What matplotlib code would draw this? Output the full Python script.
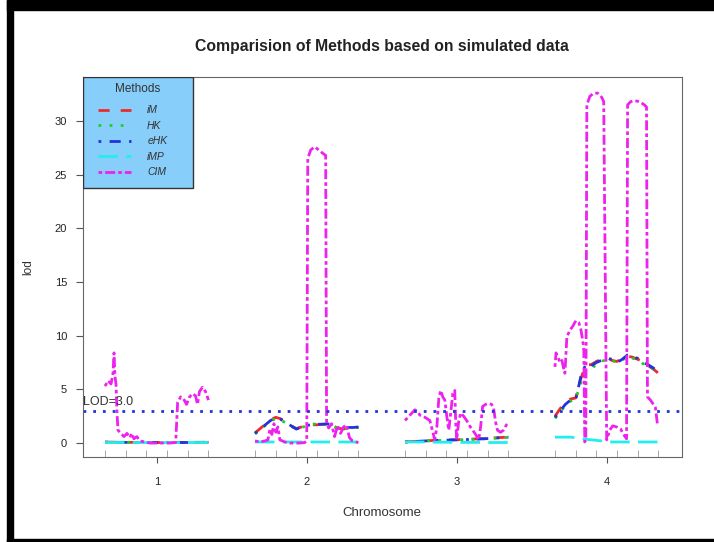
import numpy as np
import matplotlib.pyplot as plt
from matplotlib.patches import Rectangle
from matplotlib.lines import Line2D

plt.rcParams['font.family'] = ['Liberation Sans', 'DejaVu Sans']

# chromosome layout (cM)
chrom_names = ['1', '2', '3', '4']
chrom_len = 100
chrom_gap = 45
markers = [0, 20, 40, 60, 80, 100]

grid_coarse = [0, 10, 20, 30, 40, 50, 60, 70, 80, 90, 100]
grid_fine = [0, 5, 10, 15, 20, 25, 30, 35, 40, 45, 50, 55, 60, 65, 70, 75, 80, 85, 90, 95, 100]

# IM / HK / eHK / iMP, chr 1 and 3 on coarse grid, chr 2 and 4 on fine grid
im_1 = [0.09, 0.08, 0.07, 0.06, 0.05, 0.05, 0.05, 0.05, 0.06, 0.07, 0.08]
hk_1 = [0.07, 0.06, 0.05, 0.05, 0.04, 0.04, 0.04, 0.05, 0.05, 0.06, 0.06]
ehk_1 = [0.08, 0.07, 0.06, 0.05, 0.05, 0.04, 0.04, 0.05, 0.05, 0.06, 0.07]
imp_1 = [0.05, 0.05, 0.05, 0.05, 0.04, 0.04, 0.04, 0.04, 0.05, 0.05, 0.05]

im_2 = [0.95, 1.35, 1.75, 2.15, 2.4, 2.25, 1.95, 1.6, 1.35, 1.5, 1.6,
        1.7, 1.7, 1.75, 1.75, 1.6, 1.4, 1.3, 1.4, 1.45, 1.45]
hk_2 = [0.85, 1.25, 1.65, 2.0, 2.3, 2.15, 1.85, 1.55, 1.3, 1.45, 1.6,
        1.75, 1.8, 1.7, 1.75, 1.6, 1.35, 1.25, 1.4, 1.4, 1.45]
ehk_2 = [0.9, 1.3, 1.7, 2.1, 2.35, 2.2, 1.9, 1.6, 1.3, 1.5, 1.65,
         1.7, 1.75, 1.75, 1.8, 1.65, 1.35, 1.3, 1.45, 1.45, 1.5]
imp_2 = [0.1, 0.1, 0.1, 0.1, 0.1, 0.1, 0.1, 0.1, 0.1, 0.1, 0.1,
         0.1, 0.1, 0.1, 0.1, 0.1, 0.1, 0.1, 0.1, 0.1, 0.1]

im_3 = [0.12, 0.16, 0.21, 0.25, 0.28, 0.31, 0.35, 0.39, 0.44, 0.50, 0.56]
hk_3 = [0.09, 0.14, 0.19, 0.23, 0.26, 0.29, 0.32, 0.36, 0.41, 0.47, 0.53]
ehk_3 = [0.10, 0.15, 0.20, 0.24, 0.27, 0.30, 0.33, 0.37, 0.42, 0.48, 0.55]
imp_3 = [0.1, 0.1, 0.1, 0.08, 0.08, 0.06, 0.06, 0.06, 0.05, 0.05, 0.05]

im_4 = [2.5, 3.2, 3.8, 4.1, 4.2, 6.0, 7.3, 7.3, 7.6, 7.8, 8.0,
        7.7, 7.6, 7.9, 8.1, 8.0, 7.8, 7.6, 7.2, 6.9, 6.5]
hk_4 = [2.3, 2.9, 3.5, 3.9, 4.1, 5.6, 6.6, 6.8, 7.4, 7.6, 7.8,
        7.7, 7.5, 7.7, 8.1, 7.9, 7.8, 7.4, 7.2, 6.9, 6.5]
ehk_4 = [2.4, 3.0, 3.6, 4.0, 4.0, 6.2, 7.4, 7.2, 7.5, 7.7, 7.9,
         7.8, 7.5, 7.8, 8.2, 8.0, 7.9, 7.5, 7.3, 7.0, 6.6]
imp_4 = [0.55, 0.55, 0.55, 0.55, 0.5, 0.45, 0.35, 0.3, 0.25, 0.2, 0.15,
         0.1, 0.1, 0.1, 0.1, 0.1, 0.1, 0.1, 0.1, 0.1, 0.1]

# CIM, own positions per chromosome
cim_pos_1 = [0, 2.9, 5.8, 7.7, 8.7, 9.6, 10.6, 11.5, 12.5, 15.4, 18.3, 21.2, 24.0, 26.0, 27.9,
             30.8, 33.7, 38.5, 43.3, 52.9, 62.5, 68.3, 70.2, 73.1, 76.0, 78.8, 81.7, 84.6,
             87.5, 89.4, 91.3, 94.2, 97.1, 100]
cim_1 = [5.3, 5.8, 5.5, 6.5, 8.4, 6.2, 5.5, 3.0, 1.2, 0.9, 0.6, 0.9, 0.5, 0.9, 0.4,
         0.6, 0.2, 0.1, 0.0, 0.0, 0.0, 0.05, 3.8, 4.3, 4.1, 3.6, 4.3, 4.6,
         4.4, 3.6, 4.8, 5.2, 4.8, 4.0]
cim_pos_2 = [0, 4.8, 9.6, 12.5, 14.4, 16.3, 18.3, 20.2, 22.1, 24.0, 28.8, 33.7, 43.3, 48.1,
             50.0, 51.0, 53.8, 57.7, 61.5, 65.4, 68.3, 69.2, 71.2, 74.0, 76.9, 79.8, 82.7,
             85.6, 88.5, 91.3, 94.2, 97.1, 100]
cim_2 = [0.2, 0.1, 0.2, 0.3, 1.3, 0.8, 1.8, 1.0, 1.5, 0.3, 0.1, 0.0, 0.0, 0.05,
         0.2, 26.5, 27.3, 27.6, 27.3, 27.0, 26.8, 2.0, 1.4, 1.8, 0.6, 1.6, 0.9,
         1.5, 1.7, 0.5, 0.2, 0.1, 0.05]
cim_pos_3 = [0, 4.8, 9.6, 12.5, 14.4, 19.2, 24.0, 26.9, 28.8, 30.8, 32.7, 34.6, 36.5, 38.5,
             40.4, 42.3, 44.2, 46.2, 48.1, 49.0, 50.0, 51.9, 53.8, 56.7, 59.6, 62.5, 65.4,
             68.3, 71.2, 73.1, 75.0, 77.9, 80.8, 83.7, 85.6, 87.5, 89.4, 92.3, 95.2, 98.1, 100]
cim_3 = [2.1, 2.6, 3.1, 2.9, 2.6, 2.4, 2.1, 1.0, 0.3, 1.5, 4.2, 4.9, 4.3, 4.0,
         2.5, 1.2, 2.8, 4.6, 4.9, 2.0, 0.3, 2.0, 2.8, 2.5, 2.1, 1.6, 1.2,
         0.8, 0.3, 1.5, 3.4, 3.6, 3.7, 3.6, 3.3, 2.0, 1.2, 1.0, 1.2, 1.7, 1.9]
cim_pos_4 = [0, 1.0, 2.9, 4.8, 6.7, 8.7, 9.6, 11.5, 14.4, 17.3, 20.2, 23.1, 25.0, 26.9,
             27.9, 28.8, 29.8, 30.8, 33.7, 37.5, 41.3, 45.2, 47.1, 50.0, 52.9, 55.8, 59.6,
             63.5, 66.3, 69.2, 70.2, 73.1, 76.9, 81.7, 86.5, 88.5, 89.4, 92.3, 95.2, 97.1,
             98.1, 99.0]
cim_4 = [7.1, 8.4, 8.0, 7.5, 7.7, 6.8, 6.5, 9.9, 10.5, 10.9, 11.4, 11.2, 10.6, 9.5,
         8.6, 0.1, 0.3, 31.5, 32.3, 32.6, 32.6, 32.2, 31.8, 0.3, 1.2, 1.6, 1.5,
         1.3, 0.8, 0.4, 31.5, 31.8, 31.9, 31.8, 31.5, 31.3, 4.3, 4.0, 3.6, 3.3,
         2.5, 1.8]

lod_threshold = 3.0

method_labels = ['iM', 'HK', 'eHK', 'iMP', 'CIM']
method_colors = ['#ee2a2a', '#22cc22', '#2233dd', '#22eeee', '#ee22ee']
method_dashes = [(0, (4, 4)), (0, (1, 3)), (0, (1, 3, 4, 3)), (0, (7, 3)), (0, (1.3, 1.1, 3.6, 1.1))]


def genome(pos_list, val_list):
    # join chromosomes into one x axis, break the line between them
    xs, ys = [], []
    for i, (p, v) in enumerate(zip(pos_list, val_list)):
        xs += [x + i * (chrom_len + chrom_gap) for x in p] + [np.nan]
        ys += list(v) + [np.nan]
    return xs, ys


grids = [grid_coarse, grid_fine, grid_coarse, grid_fine]
series = [
    genome(grids, [im_1, im_2, im_3, im_4]),
    genome(grids, [hk_1, hk_2, hk_3, hk_4]),
    genome(grids, [ehk_1, ehk_2, ehk_3, ehk_4]),
    genome(grids, [imp_1, imp_2, imp_3, imp_4]),
    genome([cim_pos_1, cim_pos_2, cim_pos_3, cim_pos_4], [cim_1, cim_2, cim_3, cim_4]),
]

fig = plt.figure(figsize=(7.14, 5.42), dpi=100)
ax = fig.add_axes([83 / 714, 85 / 542, 599 / 714, 380 / 542])

for (xs, ys), c, ls in zip(series, method_colors, method_dashes):
    ax.plot(xs, ys, color=c, linestyle=ls, lw=2.0)

ax.axhline(lod_threshold, color='#2233dd', linestyle=(0, (1, 2.5)), lw=2.0)
ax.text(-21, lod_threshold + 0.3, 'LOD=3.0', fontsize=9, color='#333333', va='bottom', ha='left')

ax.set_xlim(-21.3, 557.8)
ax.set_ylim(-1.3, 34.1)

centers = [i * (chrom_len + chrom_gap) + chrom_len / 2 for i in range(len(chrom_names))]
ax.set_xticks(centers)
ax.set_xticklabels(chrom_names)
ax.set_xticks([m + i * (chrom_len + chrom_gap) for i in range(4) for m in markers], minor=True)
ax.set_yticks([0, 5, 10, 15, 20, 25, 30])
ax.tick_params(axis='x', which='major', direction='out', length=4.5, pad=10, labelsize=8,
               color='#555555', labelcolor='#222222')
ax.tick_params(axis='x', which='minor', direction='in', length=5, color='#999999')
ax.tick_params(axis='y', direction='out', length=5, pad=6.5, labelsize=8,
               color='#555555', labelcolor='#222222')
for s in ax.spines.values():
    s.set_color('#666666')

# legend box
ax.add_patch(Rectangle((0, 1 - 111 / 380), 110 / 599, 111 / 380, transform=ax.transAxes,
                       facecolor='#87cefa', edgecolor='#333333', lw=1, zorder=4))
ax.text(55 / 599, 1 - 12 / 380, 'Methods', transform=ax.transAxes, fontsize=8.5,
        ha='center', va='center', color='#333333', zorder=6)
handles = [Line2D([], [], color=c, linestyle=ls, lw=2.0) for c, ls in zip(method_colors, method_dashes)]
leg = ax.legend(handles, method_labels, loc='upper left', bbox_to_anchor=(10 / 599, 1 - 23 / 380),
                frameon=False, borderpad=0, prop={'style': 'italic', 'size': 7.5},
                handlelength=3.1, handletextpad=1.6, labelspacing=0.53)
leg.set_zorder(5)
for t in leg.get_texts():
    t.set_color('#333333')

fig.text(382 / 714, 1 - 47 / 542, 'Comparision of Methods based on simulated data',
         fontsize=11.3, fontweight='bold', ha='center', va='center', color='#222222')
fig.text(382 / 714, 1 - 513 / 542, 'Chromosome', fontsize=9.5, ha='center', va='center', color='#333333')
fig.text(28 / 714, 1 - 267 / 542, 'lod', fontsize=8.5, rotation=90, ha='center', va='center', color='#333333')

# outer black frame
fig.patches.append(Rectangle((7 / 714, 532 / 542), 707 / 714, 10 / 542, transform=fig.transFigure,
                             color='black', zorder=10))
fig.patches.append(Rectangle((7 / 714, 0), 707 / 714, 3 / 542, transform=fig.transFigure,
                             color='black', zorder=10))
fig.patches.append(Rectangle((7 / 714, 0), 6 / 714, 1, transform=fig.transFigure,
                             color='black', zorder=10))

fig.savefig('out.png', dpi=100)
